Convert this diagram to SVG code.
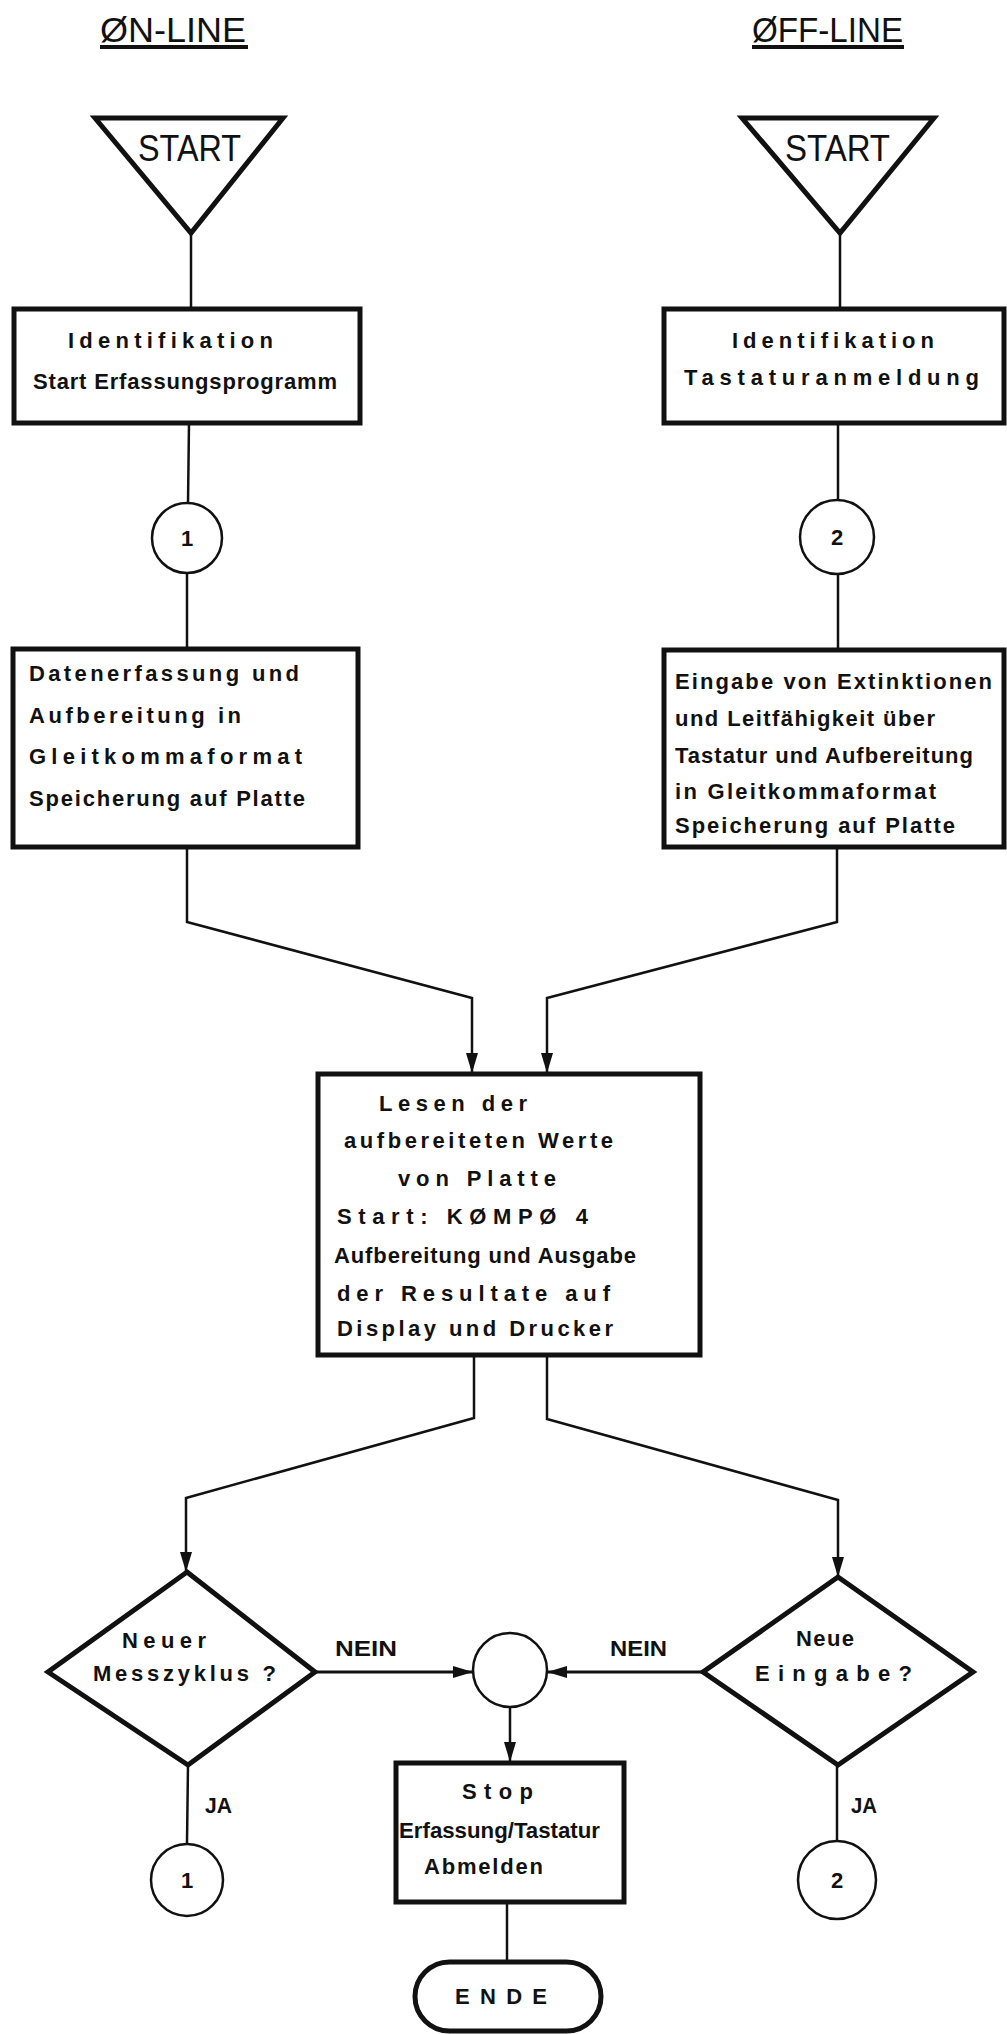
<svg xmlns="http://www.w3.org/2000/svg" width="1007" height="2034" viewBox="0 0 1007 2034">
<style>
.bg{fill:#ffffff}
.box{fill:#ffffff;stroke:#111;stroke-width:5}
.thin{fill:#ffffff;stroke:#111;stroke-width:2.5}
.con{fill:none;stroke:#111;stroke-width:2.5}
.harr{fill:none;stroke:#111;stroke-width:3}
.t{font-family:"Liberation Sans",Arial,sans-serif;font-weight:bold;font-size:22px;fill:#111}
.title{font-family:"Liberation Sans",Arial,sans-serif;font-size:35px;fill:#111}
.st{font-family:"Liberation Sans",Arial,sans-serif;font-size:36px;fill:#111}
.ul{stroke:#111;stroke-width:4}
</style>
<defs>
<marker id="av" markerUnits="userSpaceOnUse" markerWidth="22" markerHeight="14" refX="20" refY="7" orient="auto">
<path d="M0,1 L20,7 L0,13 Z" fill="#111"/>
</marker>
</defs>
<rect class="bg" x="0" y="0" width="1007" height="2034"/>

<g id="titles">
<text class="title" x="100" y="42" textLength="146" lengthAdjust="spacingAndGlyphs">ØN-LINE</text>
<line class="ul" x1="100" y1="47" x2="248" y2="47"/>
<text class="title" x="752" y="42" textLength="151" lengthAdjust="spacingAndGlyphs">ØFF-LINE</text>
<line class="ul" x1="752" y1="47" x2="904" y2="47"/>
</g>

<g id="connectors">
<line class="con" x1="191" y1="233" x2="191" y2="308"/>
<line class="con" x1="189" y1="423" x2="188" y2="503"/>
<line class="con" x1="187" y1="573" x2="187" y2="648"/>
<line class="con" x1="840" y1="233" x2="840" y2="308"/>
<line class="con" x1="838" y1="423" x2="838" y2="500"/>
<line class="con" x1="838" y1="574" x2="838" y2="648"/>
<polyline class="con" points="187,847 187,922 472,998 472,1073" marker-end="url(#av)"/>
<polyline class="con" points="837,847 837,922 547,998 547,1073" marker-end="url(#av)"/>
<polyline class="con" points="474,1355 474,1418 186,1498 186,1572" marker-end="url(#av)"/>
<polyline class="con" points="547,1355 547,1419 838,1500 838,1577" marker-end="url(#av)"/>
<line class="harr" x1="315" y1="1672" x2="473" y2="1672" marker-end="url(#av)"/>
<line class="harr" x1="703" y1="1672" x2="547" y2="1672" marker-end="url(#av)"/>
<line class="con" x1="510" y1="1707" x2="510" y2="1762" marker-end="url(#av)"/>
<line class="con" x1="507" y1="1902" x2="507" y2="1962"/>
<line class="con" x1="188" y1="1765" x2="187" y2="1843"/>
<line class="con" x1="837" y1="1765" x2="837" y2="1841"/>
<text class="t" x="335" y="1656" textLength="62" lengthAdjust="spacingAndGlyphs">NEIN</text>
<text class="t" x="610" y="1656" textLength="57" lengthAdjust="spacingAndGlyphs">NEIN</text>
<text class="t" x="205" y="1813" font-size="19" textLength="27" lengthAdjust="spacingAndGlyphs">JA</text>
<text class="t" x="851" y="1813" font-size="19" textLength="26" lengthAdjust="spacingAndGlyphs">JA</text>
</g>

<g id="start-online">
<polygon class="box" points="95,118 283,118 191,233"/>
<text class="st" x="138" y="161" textLength="103" lengthAdjust="spacingAndGlyphs">START</text>
</g>
<g id="start-offline">
<polygon class="box" points="742,118 934,118 840,233"/>
<text class="st" x="785" y="161" textLength="105" lengthAdjust="spacingAndGlyphs">START</text>
</g>

<g id="ident-online">
<rect class="box" x="14" y="309" width="346" height="114"/>
<text class="t" x="68" y="348" textLength="205" lengthAdjust="spacing">Identifikation</text>
<text class="t" x="33" y="389" textLength="304" lengthAdjust="spacing">Start Erfassungsprogramm</text>
</g>
<g id="ident-offline">
<rect class="box" x="664" y="309" width="340" height="114"/>
<text class="t" x="732" y="348" textLength="202" lengthAdjust="spacing">Identifikation</text>
<text class="t" x="684" y="385" textLength="295" lengthAdjust="spacing">Tastaturanmeldung</text>
</g>

<g id="conn1-top">
<circle class="thin" cx="187" cy="538" r="35"/>
<text class="t" x="187" y="546" text-anchor="middle">1</text>
</g>
<g id="conn2-top">
<circle class="thin" cx="837" cy="537" r="37"/>
<text class="t" x="837" y="545" text-anchor="middle">2</text>
</g>

<g id="erfassung-online">
<rect class="box" x="13" y="649" width="345" height="198"/>
<text class="t" x="29" y="681" textLength="270" lengthAdjust="spacing">Datenerfassung  und</text>
<text class="t" x="29" y="723" textLength="212" lengthAdjust="spacing">Aufbereitung in</text>
<text class="t" x="29" y="764" textLength="273" lengthAdjust="spacing">Gleitkommaformat</text>
<text class="t" x="29" y="806" textLength="276" lengthAdjust="spacing">Speicherung auf  Platte</text>
</g>
<g id="eingabe-offline">
<rect class="box" x="664" y="650" width="340" height="197"/>
<text class="t" x="675" y="689" textLength="317" lengthAdjust="spacing">Eingabe von Extinktionen</text>
<text class="t" x="675" y="726" textLength="260" lengthAdjust="spacing">und Leitfähigkeit  über</text>
<text class="t" x="675" y="763" textLength="298" lengthAdjust="spacing">Tastatur und Aufbereitung</text>
<text class="t" x="675" y="799" textLength="261" lengthAdjust="spacing">in Gleitkommaformat</text>
<text class="t" x="675" y="833" textLength="280" lengthAdjust="spacing">Speicherung  auf Platte</text>
</g>

<g id="lesen">
<rect class="box" x="318" y="1074" width="382" height="281"/>
<text class="t" x="379" y="1111" textLength="148" lengthAdjust="spacing">Lesen  der</text>
<text class="t" x="344" y="1148" textLength="269" lengthAdjust="spacing">aufbereiteten Werte</text>
<text class="t" x="398" y="1186" textLength="158" lengthAdjust="spacing">von Platte</text>
<text class="t" x="337" y="1224" textLength="251" lengthAdjust="spacing">Start:  KØMPØ 4</text>
<text class="t" x="334" y="1263" textLength="302" lengthAdjust="spacing">Aufbereitung und Ausgabe</text>
<text class="t" x="337" y="1301" textLength="273" lengthAdjust="spacing">der Resultate  auf</text>
<text class="t" x="337" y="1336" textLength="276" lengthAdjust="spacing">Display und  Drucker</text>
</g>

<g id="neuer-messzyklus">
<polygon class="box" points="187,1572 315,1672 188,1765 48,1672"/>
<text class="t" x="122" y="1648" font-size="21" textLength="84" lengthAdjust="spacing">Neuer</text>
<text class="t" x="93" y="1681" font-size="21" textLength="183" lengthAdjust="spacing">Messzyklus ?</text>
</g>
<g id="neue-eingabe">
<polygon class="box" points="838,1577 973,1672 838,1765 703,1672"/>
<text class="t" x="796" y="1646" font-size="21" textLength="58" lengthAdjust="spacing">Neue</text>
<text class="t" x="755" y="1681" font-size="21" textLength="157" lengthAdjust="spacing">Eingabe?</text>
</g>

<g id="merge">
<circle class="thin" cx="510" cy="1670" r="37"/>
</g>

<g id="stop">
<rect class="box" x="396" y="1763" width="228" height="139"/>
<text class="t" x="462" y="1799" textLength="71" lengthAdjust="spacing">Stop</text>
<text class="t" x="399" y="1838" textLength="201" lengthAdjust="spacingAndGlyphs">Erfassung/Tastatur</text>
<text class="t" x="424" y="1874" textLength="119" lengthAdjust="spacing">Abmelden</text>
</g>

<g id="conn1-bottom">
<circle class="thin" cx="187" cy="1880" r="36"/>
<text class="t" x="187" y="1888" text-anchor="middle">1</text>
</g>
<g id="conn2-bottom">
<circle class="thin" cx="837" cy="1880" r="39"/>
<text class="t" x="837" y="1888" text-anchor="middle">2</text>
</g>

<g id="ende">
<rect class="box" x="415" y="1962" width="186" height="69" rx="34.5" ry="34.5"/>
<text class="t" x="455" y="2004" textLength="92" lengthAdjust="spacing">ENDE</text>
</g>
</svg>
